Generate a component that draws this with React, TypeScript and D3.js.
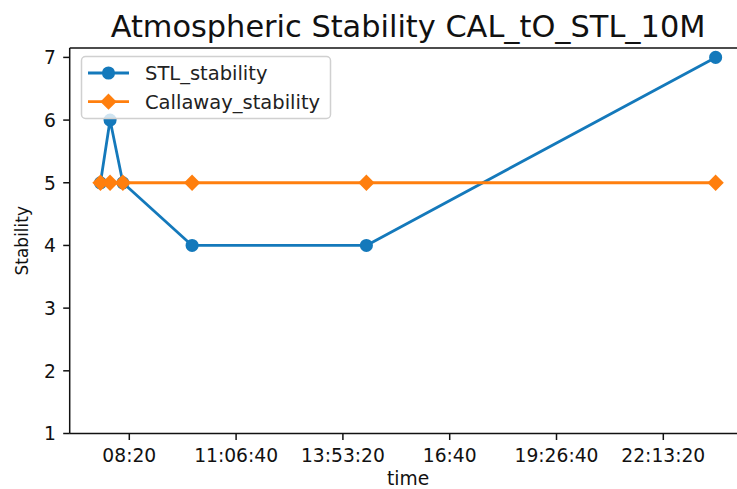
import React from "react";
import * as d3 from "d3";

// Observation times (HH:MM) and stability classes for both stations
const times = ["07:35", "07:50", "08:10", "09:58", "14:30", "23:35"];
const stlStability = [5, 6, 5, 4, 4, 7];
const callawayStability = [5, 5, 5, 5, 5, 5];

// Axis ticks: seconds since midnight and stability values
const xTickSeconds = [30000, 40000, 50000, 60000, 70000, 80000];
const yTickValues = [1, 2, 3, 4, 5, 6, 7];

const seriesNames = ["STL_stability", "Callaway_stability"];
const titleText = "Atmospheric Stability CAL_tO_STL_10M";

const WIDTH = 737;
const HEIGHT = 489;
const BLUE = "#1479bb";
const ORANGE = "#ff7f0e";
const FONT = "DejaVu Sans, sans-serif";

const toSeconds = (t: string) => {
  const [h, m] = t.split(":").map(Number);
  return h * 3600 + m * 60;
};

// Seconds -> "HH:MM" or "HH:MM:SS" (seconds shown only when non-zero)
const formatTime = (v: number) => {
  let s = Math.round(v);
  const sec = s % 60;
  s = Math.floor(s / 60);
  const min = s % 60;
  const hr = Math.floor(s / 60) % 24;
  const p = (n: number) => String(n).padStart(2, "0");
  return sec === 0 ? `${p(hr)}:${p(min)}` : `${p(hr)}:${p(min)}:${p(sec)}`;
};

export default function App() {
  const secs = times.map(toSeconds);
  const xMin = d3.min(secs)!;
  const xMax = d3.max(secs)!;
  const pad = (xMax - xMin) * 0.05;

  const plotLeft = 69.7;
  const plotRight = 746.4;
  const plotTop = 48;
  const plotBottom = 433.5;

  const x = d3.scaleLinear().domain([xMin - pad, xMax + pad]).range([plotLeft, plotRight]);
  const y = d3.scaleLinear().domain([1, 7.15]).range([plotBottom, plotTop]);

  const line = d3
    .line<[number, number]>()
    .x((d) => x(d[0]))
    .y((d) => y(d[1]));

  const stlPts: [number, number][] = secs.map((s, i) => [s, stlStability[i]]);
  const calPts: [number, number][] = secs.map((s, i) => [s, callawayStability[i]]);

  const circleR = 5.6;
  const diamond = (cx: number, cy: number, r = 6.8) =>
    `M${cx},${cy - r}L${cx + r},${cy}L${cx},${cy + r}L${cx - r},${cy}Z`;

  const tickLen = 6.5;
  const tickFont = 18.7;

  // Legend geometry
  const lgX = 81.5;
  const lgY = 56.5;
  const lgW = 249;
  const lgH = 62;
  const rowY = [73, 101.7];
  const hx0 = 88;
  const hx1 = 129;
  const hmid = (hx0 + hx1) / 2;
  const textX = 145;
  const legendFont = 19.5;

  return (
    <svg
      width={WIDTH}
      height={HEIGHT}
      style={{ position: "absolute", left: 0, top: 0, background: "#fff" }}
      fontFamily={FONT}
    >
      <rect width={WIDTH} height={HEIGHT} fill="#fff" />

      {/* title */}
      <text x={(plotLeft + plotRight) / 2} y={36.5} textAnchor="middle" fontSize={30.4} fill="#111">
        {titleText}
      </text>

      {/* series */}
      <path d={line(stlPts)!} fill="none" stroke={BLUE} strokeWidth={2.8} strokeLinejoin="round" />
      {stlPts.map((d, i) => (
        <circle key={`s${i}`} cx={x(d[0])} cy={y(d[1])} r={circleR} fill={BLUE} stroke={BLUE} strokeWidth={1.9} />
      ))}
      <path d={line(calPts)!} fill="none" stroke={ORANGE} strokeWidth={2.8} strokeLinejoin="round" />
      {calPts.map((d, i) => (
        <path key={`c${i}`} d={diamond(x(d[0]), y(d[1]))} fill={ORANGE} stroke={ORANGE} strokeWidth={1.9} strokeLinejoin="miter" />
      ))}

      {/* spines */}
      <g stroke="#111" strokeWidth={1.5} fill="none">
        <line x1={plotLeft} y1={plotTop} x2={plotLeft} y2={plotBottom} />
        <line x1={plotLeft} y1={plotBottom} x2={plotRight} y2={plotBottom} />
        <line x1={plotLeft} y1={plotTop} x2={plotRight} y2={plotTop} />
        <line x1={plotRight} y1={plotTop} x2={plotRight} y2={plotBottom} />
      </g>

      {/* x axis */}
      {xTickSeconds.map((t) => (
        <g key={`xt${t}`}>
          <line x1={x(t)} x2={x(t)} y1={plotBottom} y2={plotBottom + tickLen} stroke="#111" strokeWidth={1.5} />
          <text x={x(t)} y={461.5} textAnchor="middle" fontSize={tickFont} fill="#111">
            {formatTime(t)}
          </text>
        </g>
      ))}
      <text x={(plotLeft + plotRight) / 2} y={485} textAnchor="middle" fontSize={18.7} fill="#111">
        time
      </text>

      {/* y axis */}
      {yTickValues.map((v) => (
        <g key={`yt${v}`}>
          <line x1={plotLeft - tickLen} x2={plotLeft} y1={y(v)} y2={y(v)} stroke="#111" strokeWidth={1.5} />
          <text x={56} y={y(v)} dy="0.36em" textAnchor="end" fontSize={tickFont} fill="#111">
            {v}
          </text>
        </g>
      ))}
      <text
        transform={`translate(27.5,${(plotTop + plotBottom) / 2}) rotate(-90)`}
        textAnchor="middle"
        fontSize={17}
        fill="#111"
      >
        Stability
      </text>

      {/* legend */}
      <rect x={lgX} y={lgY} width={lgW} height={lgH} rx={4} fill="#fff" fillOpacity={0.8} stroke="#d0d0d0" strokeWidth={1.5} />
      <line x1={hx0} x2={hx1} y1={rowY[0]} y2={rowY[0]} stroke={BLUE} strokeWidth={2.8} />
      <circle cx={hmid} cy={rowY[0]} r={circleR} fill={BLUE} stroke={BLUE} strokeWidth={1.9} />
      <text x={textX} y={rowY[0]} dy="0.36em" fontSize={legendFont} fill="#222">
        {seriesNames[0]}
      </text>
      <line x1={hx0} x2={hx1} y1={rowY[1]} y2={rowY[1]} stroke={ORANGE} strokeWidth={2.8} />
      <path d={diamond(hmid, rowY[1])} fill={ORANGE} stroke={ORANGE} strokeWidth={1.9} />
      <text x={textX} y={rowY[1]} dy="0.36em" fontSize={legendFont} fill="#222">
        {seriesNames[1]}
      </text>
    </svg>
  );
}
